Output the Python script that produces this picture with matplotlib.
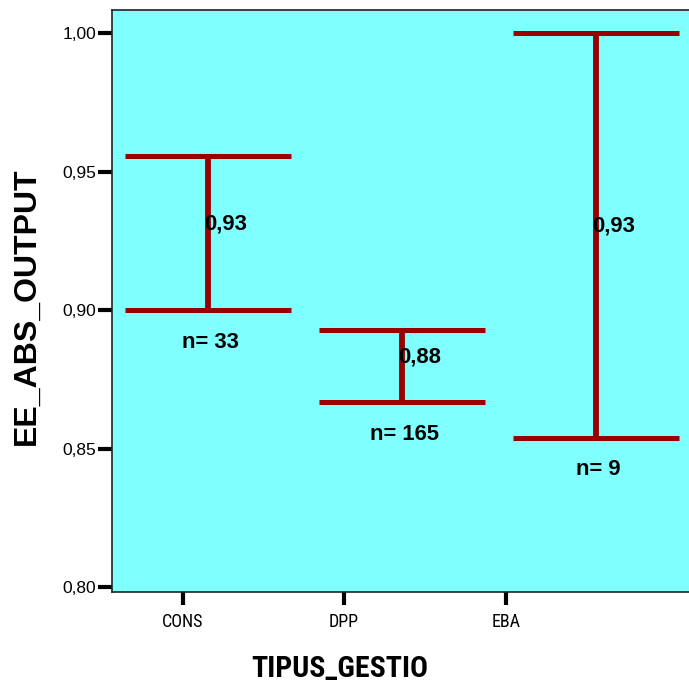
import matplotlib
matplotlib.use("Agg")
import matplotlib.pyplot as plt
from matplotlib import font_manager
from matplotlib.transforms import offset_copy

categories = ["CONS", "DPP", "EBA"]
lower = [0.900, 0.8668, 0.854]
upper = [0.9556, 0.8928, 1.000]
means = [0.9278, 0.8798, 0.927]
counts = [33, 165, 9]
y_ticks = [0.80, 0.85, 0.90, 0.95, 1.00]

# SPSS puts the category ticks a bit left of the bars
tick_pos = [-0.129, 0.701, 1.536]

names = {f.name for f in font_manager.fontManager.ttflist}
narrow = "Roboto Condensed" if "Roboto Condensed" in names else "Liberation Sans"
plt.rcParams["font.family"] = ["Liberation Sans", "DejaVu Sans"]

red = "#990000"

fig = plt.figure(figsize=(6.89, 6.83), dpi=100)
ax = fig.add_axes([112 / 689, 91 / 683, 1 - 112 / 689, 582.5 / 683])
ax.set_facecolor("#80ffff")

x = range(len(categories))
half = 0.43
ax.vlines(x, lower, upper, color=red, lw=4.2)
ax.hlines(lower, [i - half for i in x], [i + half for i in x], color=red, lw=3.6)
ax.hlines(upper, [i - half for i in x], [i + half for i in x], color=red, lw=3.6)

for i, m in enumerate(means):
    tr = offset_copy(ax.transData, fig=fig, x=-4, y=4, units="dots")
    ax.text(i, m, f"{m:.2f}".replace(".", ","), transform=tr, ha="left",
            va="baseline", fontsize=15.8, fontweight="bold")
    tr2 = offset_copy(ax.transData, fig=fig, x=2, y=-32, units="dots")
    ax.text(i, lower[i], f"n= {counts[i]}", transform=tr2, ha="center",
            va="center", fontsize=15.8, fontweight="bold")

ax.set_xlim(-0.4948, 2.479)
ax.set_ylim(0.7982, 1.0086)

ax.set_yticks(y_ticks)
ax.set_yticklabels([f"{v:.2f}".replace(".", ",") for v in y_ticks], fontsize=12.5)
ax.set_xticks(tick_pos)
ax.set_xticklabels(categories, fontsize=13, family=narrow)
ax.tick_params(axis="y", length=10, width=3, pad=1.5)
ax.tick_params(axis="x", length=9, width=3, pad=6)

for side in ["left", "top", "bottom"]:
    ax.spines[side].set_color("#222222")
    ax.spines[side].set_linewidth(1.2)
ax.spines["right"].set_visible(False)

fig.text(27 / 689, 1 - 306 / 683, "EE_ABS_OUTPUT", rotation=90, ha="center",
         va="center", fontsize=23, fontweight="bold")
fig.text(340 / 689, 1 - 669 / 683, "TIPUS_GESTIO", ha="center", va="center",
         fontsize=21.5, fontweight="bold", family=narrow)

fig.savefig("out.png", dpi=100)
